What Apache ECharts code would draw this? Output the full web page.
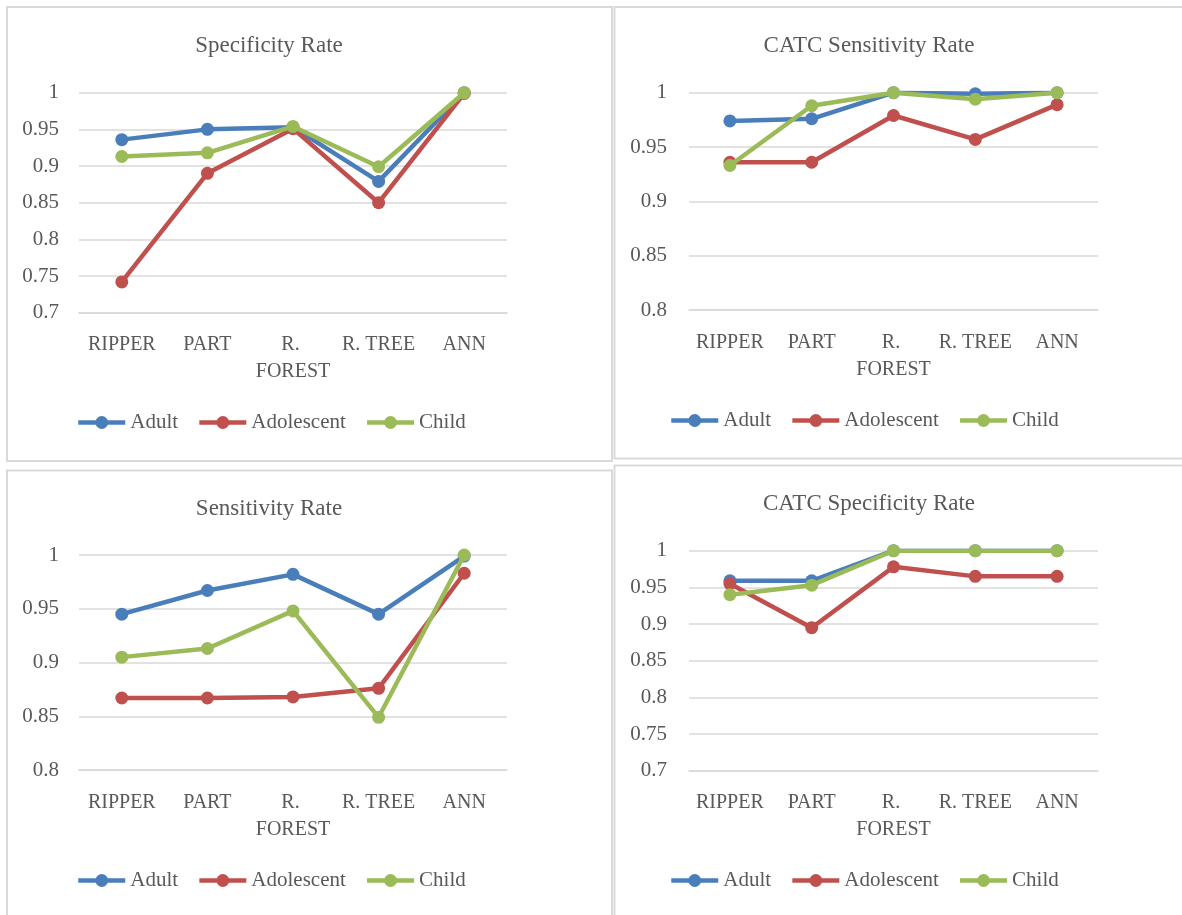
<!DOCTYPE html>
<html>
<head>
<meta charset="utf-8">
<script src="https://cdn.jsdelivr.net/npm/echarts@6/dist/echarts.min.js"></script>
<style>
html,body{margin:0;padding:0;background:#fff;}
#chart{width:1182px;height:915px;}
</style>
</head>
<body>
<div id="chart"></div>
<script>
// ---- data ----
const categories = ['RIPPER', 'PART', 'R. FOREST', 'R. TREE', 'ANN'];
const seriesNames = ['Adult', 'Adolescent', 'Child'];

const specTitle = 'Specificity Rate';
const specAdult = [0.936, 0.950, 0.953, 0.879, 1.000];
const specAdolescent = [0.742, 0.890, 0.951, 0.850, 0.999];
const specChild = [0.913, 0.918, 0.954, 0.899, 1.000];

const catcSensTitle = 'CATC Sensitivity Rate';
const catcSensAdult = [0.974, 0.976, 1.000, 0.999, 1.000];
const catcSensAdolescent = [0.936, 0.936, 0.979, 0.957, 0.989];
const catcSensChild = [0.933, 0.988, 1.000, 0.994, 1.000];

const sensTitle = 'Sensitivity Rate';
const sensAdult = [0.945, 0.967, 0.982, 0.945, 0.999];
const sensAdolescent = [0.867, 0.867, 0.868, 0.876, 0.983];
const sensChild = [0.905, 0.913, 0.948, 0.849, 1.000];

const catcSpecTitle = 'CATC Specificity Rate';
const catcSpecAdult = [0.959, 0.959, 1.000, 1.000, 1.000];
const catcSpecAdolescent = [0.955, 0.895, 0.978, 0.965, 0.965];
const catcSpecChild = [0.940, 0.953, 1.000, 1.000, 1.000];

const axisMins = [0.7, 0.8, 0.8, 0.7];
const axisMax = 1;
const axisStep = 0.05;

// ---- layout / style ----
const colors = ['#4A7EBB', '#C0504D', '#9BBB59'];
const FONT = "'Liberation Serif', 'Times New Roman', serif";
const TXT = '#595959';
const GRIDC = '#D9D9D9';

const panels = [
  {title: specTitle, data: [specAdult, specAdolescent, specChild], min: axisMins[0],
   grid: {left: 79, top: 92.7, width: 428, height: 220}, titleX: 269, titleY: 46,
   legendX: 76, legendY: 423, labelMargin: 20, box: [7, 7, 605, 454]},
  {title: catcSensTitle, data: [catcSensAdult, catcSensAdolescent, catcSensChild], min: axisMins[1],
   grid: {left: 689, top: 92.7, width: 409, height: 217.3}, titleX: 869, titleY: 46,
   legendX: 669, legendY: 421, labelMargin: 22, box: [614.5, 7, 600, 451.5]},
  {title: sensTitle, data: [sensAdult, sensAdolescent, sensChild], min: axisMins[2],
   grid: {left: 79, top: 555, width: 428, height: 215}, titleX: 269, titleY: 509,
   legendX: 76, legendY: 881, labelMargin: 20, box: [7, 470.5, 605, 500]},
  {title: catcSpecTitle, data: [catcSpecAdult, catcSpecAdolescent, catcSpecChild], min: axisMins[3],
   grid: {left: 689, top: 550.7, width: 409, height: 220}, titleX: 869, titleY: 503.7,
   legendX: 669, legendY: 881, labelMargin: 22, box: [614.5, 465.5, 600, 500]}
];

const option = {
  animation: false,
  backgroundColor: '#fff',
  color: colors,
  title: [], legend: [], grid: [], xAxis: [], yAxis: [], series: [],
  graphic: []
};

panels.forEach((p, i) => {
  option.graphic.push({
    type: 'rect', silent: true, z: -1,
    shape: {x: p.box[0], y: p.box[1], width: p.box[2], height: p.box[3]},
    style: {fill: 'none', stroke: GRIDC, lineWidth: 2}
  });
  option.title.push({
    text: p.title, left: p.titleX, top: p.titleY - 11.5, textAlign: 'center', padding: 0,
    textStyle: {fontFamily: FONT, fontSize: 23, fontWeight: 'normal', color: TXT}
  });
  option.legend.push({
    data: seriesNames, left: p.legendX, top: p.legendY - 11, padding: 0,
    itemWidth: 47, itemHeight: 16, itemGap: 19,
    lineStyle: {width: 4.5},
    textStyle: {fontFamily: FONT, fontSize: 21, color: TXT}
  });
  option.grid.push(Object.assign({containLabel: false}, p.grid));
  option.xAxis.push({
    type: 'category', gridIndex: i, data: categories, boundaryGap: true,
    axisLine: {show: true, lineStyle: {color: GRIDC, width: 1.5}},
    axisTick: {show: false},
    axisLabel: {fontFamily: FONT, fontSize: 20, color: TXT, margin: 19, lineHeight: 27,
      interval: 0, width: 80, overflow: 'break'}
  });
  option.yAxis.push({
    type: 'value', gridIndex: i, min: p.min, max: axisMax, interval: axisStep,
    axisLine: {show: false}, axisTick: {show: false},
    splitLine: {lineStyle: {color: GRIDC, width: 1.5}},
    axisLabel: {fontFamily: FONT, fontSize: 21, color: TXT, margin: p.labelMargin,
      formatter: v => String(Number(v.toFixed(2)))}
  });
  seriesNames.forEach((name, k) => {
    option.series.push({
      type: 'line', name: name, xAxisIndex: i, yAxisIndex: i,
      data: p.data[k], symbol: 'circle', symbolSize: 13,
      lineStyle: {width: 4.5, color: colors[k]},
      itemStyle: {color: colors[k]},
      z: 2 + k
    });
  });
});

const chart = echarts.init(document.getElementById('chart'), null, {renderer: 'canvas'});
chart.setOption(option);
</script>
</body>
</html>
